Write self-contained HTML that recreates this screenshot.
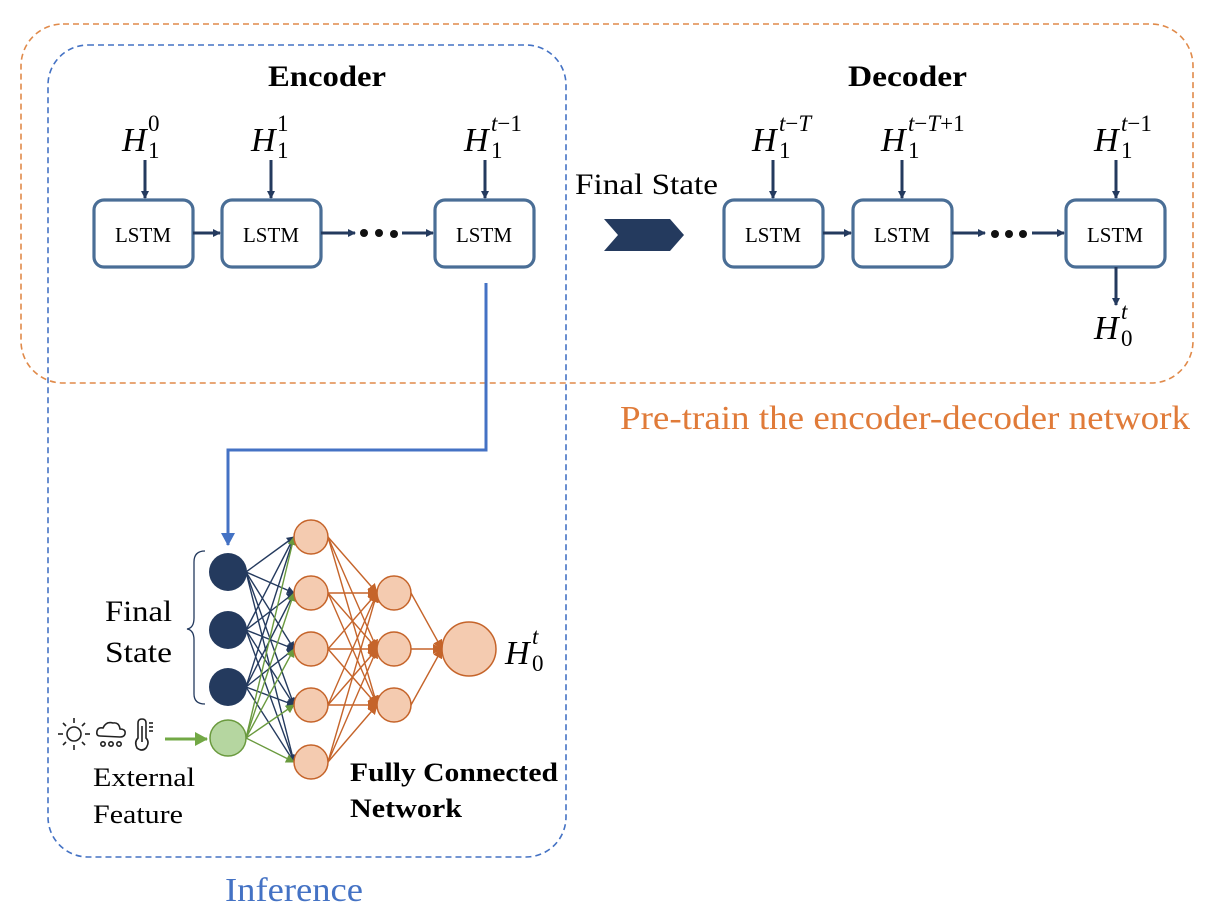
<!DOCTYPE html>
<html><head><meta charset="utf-8"><style>
html,body{margin:0;padding:0;background:#fff;}
svg{display:block;}
text{font-family:"Liberation Serif",serif;}
</style></head><body>
<svg width="1232" height="918" viewBox="0 0 1232 918" xmlns="http://www.w3.org/2000/svg">
<defs>
<marker id="an" markerWidth="8" markerHeight="8" refX="7" refY="4" orient="auto" markerUnits="userSpaceOnUse"><path d="M0,0 L8,4 L0,8 z" fill="#243a5e"/></marker>
<marker id="ag" markerWidth="9" markerHeight="9" refX="8" refY="4.5" orient="auto" markerUnits="userSpaceOnUse"><path d="M0,0 L9,4.5 L0,9 z" fill="#6a9a3e"/></marker>
<marker id="agb" markerWidth="14" markerHeight="14" refX="12" refY="7" orient="auto" markerUnits="userSpaceOnUse"><path d="M0,0 L13,7 L0,14 z" fill="#72a845"/></marker>
<marker id="ao" markerWidth="10" markerHeight="10" refX="9" refY="5" orient="auto" markerUnits="userSpaceOnUse"><path d="M0,0 L10,5 L0,10 z" fill="#c5642a"/></marker>
<marker id="abl" markerWidth="14" markerHeight="14" refX="12" refY="7" orient="auto" markerUnits="userSpaceOnUse"><path d="M0,0 L13,7 L0,14 z" fill="#4472c4"/></marker>
</defs>

<rect x="21" y="24" width="1172" height="359" rx="42" fill="none" stroke="#e08a4a" stroke-width="1.6" stroke-dasharray="6,4"/>
<rect x="48" y="45" width="518" height="812" rx="40" fill="none" stroke="#4472c4" stroke-width="1.6" stroke-dasharray="6,4"/>

<text x="268" y="86" font-size="30" font-weight="bold" textLength="118" lengthAdjust="spacingAndGlyphs">Encoder</text>
<text x="848" y="86" font-size="30" font-weight="bold" textLength="119" lengthAdjust="spacingAndGlyphs">Decoder</text>

<g fill="#fff" stroke="#4a6e96" stroke-width="3.2">
<rect x="94" y="200" width="99" height="67" rx="10"/>
<rect x="222" y="200" width="99" height="67" rx="10"/>
<rect x="435" y="200" width="99" height="67" rx="10"/>
<rect x="724" y="200" width="99" height="67" rx="10"/>
<rect x="853" y="200" width="99" height="67" rx="10"/>
<rect x="1066" y="200" width="99" height="67" rx="10"/>
</g>
<g font-size="21" text-anchor="middle">
<text x="143" y="242">LSTM</text><text x="271" y="242">LSTM</text><text x="484" y="242">LSTM</text>
<text x="773" y="242">LSTM</text><text x="902" y="242">LSTM</text><text x="1115" y="242">LSTM</text>
</g>

<g stroke="#243a5e" stroke-width="3" marker-end="url(#an)">
<line x1="145" y1="160" x2="145" y2="198"/>
<line x1="271" y1="160" x2="271" y2="198"/>
<line x1="485" y1="160" x2="485" y2="198"/>
<line x1="773" y1="160" x2="773" y2="198"/>
<line x1="902" y1="160" x2="902" y2="198"/>
<line x1="1116" y1="160" x2="1116" y2="198"/>
<line x1="193" y1="233" x2="220" y2="233"/>
<line x1="321" y1="233" x2="355" y2="233"/>
<line x1="402" y1="233" x2="433" y2="233"/>
<line x1="823" y1="233" x2="851" y2="233"/>
<line x1="952" y1="233" x2="985" y2="233"/>
<line x1="1032" y1="233" x2="1064" y2="233"/>
<line x1="1116" y1="267" x2="1116" y2="305"/>
</g>
<g fill="#111">
<circle cx="364" cy="233" r="4"/><circle cx="379" cy="233" r="4"/><circle cx="394" cy="234" r="4"/>
<circle cx="995" cy="234" r="4"/><circle cx="1009" cy="234" r="4"/><circle cx="1023" cy="234" r="4"/>
</g>

<!-- H labels -->
<g font-size="34" font-style="italic">
<text x="122" y="151">H</text><text x="251" y="151">H</text><text x="464" y="151">H</text>
<text x="752" y="151">H</text><text x="881" y="151">H</text><text x="1094" y="151">H</text>
<text x="1094" y="339">H</text><text x="505" y="664">H</text>
</g>
<g font-size="23">
<text x="148" y="131">0</text><text x="148" y="158">1</text>
<text x="277" y="131">1</text><text x="277" y="158">1</text>
<text x="491" y="131"><tspan font-style="italic">t</tspan>−1</text><text x="491" y="158">1</text>
<text x="779" y="131"><tspan font-style="italic">t</tspan>−<tspan font-style="italic">T</tspan></text><text x="779" y="158">1</text>
<text x="908" y="131"><tspan font-style="italic">t</tspan>−<tspan font-style="italic">T</tspan>+1</text><text x="908" y="158">1</text>
<text x="1121" y="131"><tspan font-style="italic">t</tspan>−1</text><text x="1121" y="158">1</text>
<text x="1121" y="319" font-style="italic">t</text><text x="1121" y="346">0</text>
<text x="532" y="644" font-style="italic">t</text><text x="532" y="671">0</text>
</g>

<text x="575" y="194" font-size="30" textLength="143" lengthAdjust="spacingAndGlyphs">Final State</text>
<polygon points="604,219 670,219 684,235 670,251 604,251 618,235" fill="#243a5e"/>

<text x="620" y="429" font-size="34" fill="#e07b39" textLength="570" lengthAdjust="spacingAndGlyphs">Pre-train the encoder-decoder network</text>
<text x="225" y="901" font-size="34" fill="#4472c4" textLength="138" lengthAdjust="spacingAndGlyphs">Inference</text>

<polyline points="486,283 486,450 228,450 228,545" fill="none" stroke="#4472c4" stroke-width="3" marker-end="url(#abl)"/>

<g stroke="#243a5e" stroke-width="1.4" marker-end="url(#an)">
<line x1="246" y1="572" x2="294" y2="537"/><line x1="246" y1="572" x2="294" y2="593"/><line x1="246" y1="572" x2="294" y2="649"/><line x1="246" y1="572" x2="294" y2="705"/><line x1="246" y1="572" x2="294" y2="762"/>
<line x1="246" y1="630" x2="294" y2="537"/><line x1="246" y1="630" x2="294" y2="593"/><line x1="246" y1="630" x2="294" y2="649"/><line x1="246" y1="630" x2="294" y2="705"/><line x1="246" y1="630" x2="294" y2="762"/>
<line x1="246" y1="687" x2="294" y2="537"/><line x1="246" y1="687" x2="294" y2="593"/><line x1="246" y1="687" x2="294" y2="649"/><line x1="246" y1="687" x2="294" y2="705"/><line x1="246" y1="687" x2="294" y2="762"/>
</g>
<g stroke="#6a9a3e" stroke-width="1.4" marker-end="url(#ag)">
<line x1="246" y1="738" x2="294" y2="537"/><line x1="246" y1="738" x2="294" y2="593"/><line x1="246" y1="738" x2="294" y2="649"/><line x1="246" y1="738" x2="294" y2="705"/><line x1="246" y1="738" x2="294" y2="762"/>
</g>
<g stroke="#c5642a" stroke-width="1.4" marker-end="url(#ao)">
<line x1="328" y1="537" x2="377" y2="593"/><line x1="328" y1="537" x2="377" y2="649"/><line x1="328" y1="537" x2="377" y2="705"/>
<line x1="328" y1="593" x2="377" y2="593"/><line x1="328" y1="593" x2="377" y2="649"/><line x1="328" y1="593" x2="377" y2="705"/>
<line x1="328" y1="649" x2="377" y2="593"/><line x1="328" y1="649" x2="377" y2="649"/><line x1="328" y1="649" x2="377" y2="705"/>
<line x1="328" y1="705" x2="377" y2="593"/><line x1="328" y1="705" x2="377" y2="649"/><line x1="328" y1="705" x2="377" y2="705"/>
<line x1="328" y1="762" x2="377" y2="593"/><line x1="328" y1="762" x2="377" y2="649"/><line x1="328" y1="762" x2="377" y2="705"/>
<line x1="411" y1="593" x2="442" y2="649"/><line x1="411" y1="649" x2="442" y2="649"/><line x1="411" y1="705" x2="442" y2="649"/>
</g>

<g fill="#243a5e"><circle cx="228" cy="572" r="19"/><circle cx="228" cy="630" r="19"/><circle cx="228" cy="687" r="19"/></g>
<circle cx="228" cy="738" r="18" fill="#b5d6a0" stroke="#6a9a3e" stroke-width="1.5"/>
<g fill="#f4cbb0" stroke="#c5642a" stroke-width="1.5">
<circle cx="311" cy="537" r="17"/><circle cx="311" cy="593" r="17"/><circle cx="311" cy="649" r="17"/><circle cx="311" cy="705" r="17"/><circle cx="311" cy="762" r="17"/>
<circle cx="394" cy="593" r="17"/><circle cx="394" cy="649" r="17"/><circle cx="394" cy="705" r="17"/>
<circle cx="469" cy="649" r="27"/>
</g>

<path d="M205,551 Q194,551 194,562 L194,618 Q194,628 187,629 Q194,630 194,640 L194,694 Q194,704 205,704" fill="none" stroke="#243a5e" stroke-width="1.3"/>
<text x="105" y="621" font-size="30" textLength="67" lengthAdjust="spacingAndGlyphs">Final</text>
<text x="105" y="662" font-size="30" textLength="67" lengthAdjust="spacingAndGlyphs">State</text>

<g stroke="#222" stroke-width="1.6" fill="none">
<circle cx="74" cy="734" r="7"/>
<line x1="58" y1="734" x2="63" y2="734"/><line x1="85" y1="734" x2="90" y2="734"/>
<line x1="74" y1="718" x2="74" y2="723"/><line x1="74" y1="745" x2="74" y2="750"/>
<line x1="63" y1="723" x2="66" y2="726"/><line x1="82" y1="742" x2="85" y2="745"/>
<line x1="85" y1="723" x2="82" y2="726"/><line x1="66" y1="742" x2="63" y2="745"/>
<path d="M100,736 Q96,736 97,731 Q98,727 103,728 Q106,721 113,723 Q119,722 120,729 Q126,729 125,734 Q124,737 120,737 Z"/>
<circle cx="103" cy="744" r="2.2"/><circle cx="111" cy="744" r="2.2"/><circle cx="119" cy="744" r="2.2"/>
<path d="M138,738 L138,723 Q138,719 142,719 Q146,719 146,723 L146,738 Q150,742 146,748 Q142,752 137,748 Q134,742 138,738 Z"/>
<line x1="142" y1="726" x2="142" y2="742"/>
<line x1="149" y1="723" x2="153" y2="723"/><line x1="149" y1="727" x2="153" y2="727"/><line x1="149" y1="731" x2="153" y2="731"/>
</g>
<line x1="165" y1="739" x2="207" y2="739" stroke="#72a845" stroke-width="3" marker-end="url(#agb)"/>

<text x="93" y="786" font-size="26" textLength="102" lengthAdjust="spacingAndGlyphs">External</text>
<text x="93" y="823" font-size="26" textLength="90" lengthAdjust="spacingAndGlyphs">Feature</text>
<text x="350" y="781" font-size="26" font-weight="bold" textLength="208" lengthAdjust="spacingAndGlyphs">Fully Connected</text>
<text x="350" y="817" font-size="26" font-weight="bold" textLength="112" lengthAdjust="spacingAndGlyphs">Network</text>
</svg>
</body></html>
